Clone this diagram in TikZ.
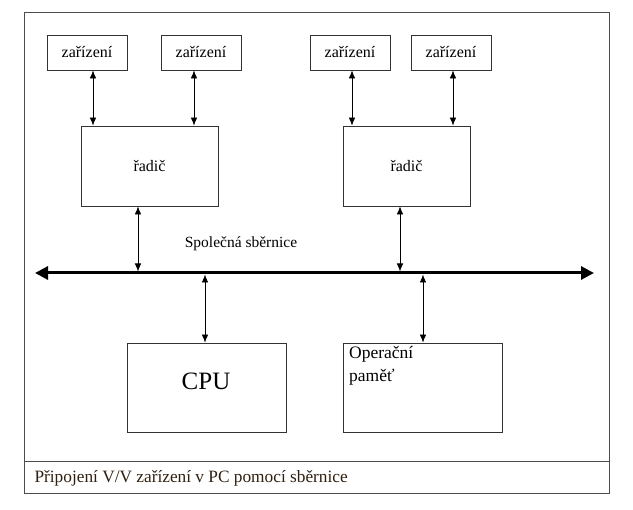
\documentclass[tikz,border=0pt]{standalone}
\usepackage{fontspec}
\setmainfont{Liberation Serif}
\usetikzlibrary{arrows.meta}
\begin{document}
\begin{tikzpicture}[x=1pt,y=-1pt,
  box/.style={draw=black!80,line width=0.8pt,inner sep=0pt},
  conn/.style={line width=0.7pt,{Latex[length=8pt,width=6.5pt]}-{Latex[length=8pt,width=6.5pt]}},
  lbl/.style={font=\fontsize{16}{18}\selectfont}]
\useasboundingbox (0,0) rectangle (633,510);
\fill[white] (0,0) rectangle (633,510);
\draw[black!70,line width=0.8pt] (24,12) rectangle (609,493);
\draw[black!70,line width=0.8pt] (24,461) -- (609,461);
\node[anchor=west,text=black!75!brown,font=\fontsize{17.3}{19}\selectfont] (cap) at (31,478) {Připojení V/V zařízení v PC pomocí sběrnice};
% devices
\node[box,minimum width=80pt,minimum height=35pt,lbl] (d1) at (87,52.5) {zařízení};
\node[box,minimum width=80pt,minimum height=35pt,lbl] (d2) at (201,52.5) {zařízení};
\node[box,minimum width=80pt,minimum height=35pt,lbl] (d3) at (350,52.5) {zařízení};
\node[box,minimum width=80pt,minimum height=35pt,lbl] (d4) at (451,52.5) {zařízení};
\node[box,minimum width=137pt,minimum height=80pt,lbl] (r1) at (149.5,166) {řadič};
\node[box,minimum width=127pt,minimum height=80pt,lbl] (r2) at (406.5,166) {řadič};
\node[box,minimum width=159pt,minimum height=89pt] (cpu) at (206.5,387.5) {};
\node[font=\fontsize{25}{27}\selectfont] (cput) at (206,381) {CPU};
\node[box,minimum width=159pt,minimum height=89pt] (mem) at (422.5,387.5) {};
\node[anchor=north west,align=left,inner sep=0pt,font=\fontsize{17.5}{23}\selectfont] (memt) at (349,346) {Operační\\paměť};
% bus
\coordinate (bl) at (35,273);
\coordinate (br) at (594,273);
\draw[line width=3pt,{Triangle[length=13pt,width=13pt]}-{Triangle[length=13pt,width=13pt]}] (bl) -- (br);
\node[font=\fontsize{15.5}{17}\selectfont] (bt) at (241,244) {Společná sběrnice};
\coordinate (b1) at (138,271.5);
\coordinate (b2) at (400,271.5);
\coordinate (b3) at (205,274.5);
\coordinate (b4) at (423,274.5);
\draw[conn] (d1.south -| 93,0) -- (r1.north -| 93,0);
\draw[conn] (d2.south -| 194,0) -- (r1.north -| 194,0);
\draw[conn] (d3.south -| 352,0) -- (r2.north -| 352,0);
\draw[conn] (d4.south -| 453,0) -- (r2.north -| 453,0);
\draw[conn] (r1.south -| b1) -- (b1);
\draw[conn] (r2.south -| b2) -- (b2);
\draw[conn] (b3) -- (cpu.north -| b3);
\draw[conn] (b4) -- (mem.north -| b4);
\end{tikzpicture}
\end{document}
